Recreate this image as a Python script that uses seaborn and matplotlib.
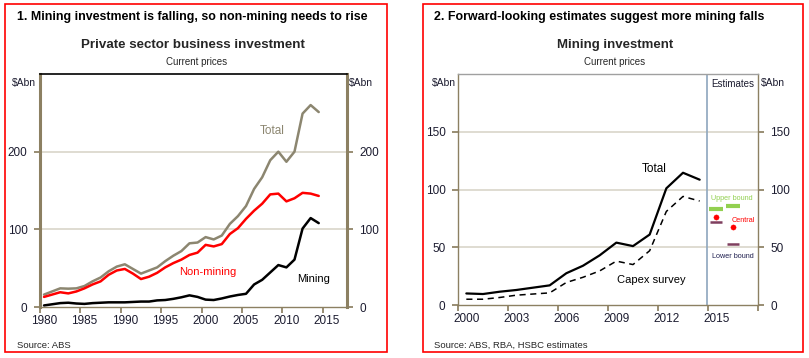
import matplotlib
matplotlib.use("Agg")
import matplotlib.pyplot as plt
import matplotlib.font_manager as fm
from matplotlib.patches import Rectangle
import pandas as pd
import seaborn as sns

# ---- data: private sector business investment ($Abn, current prices) ----
years_a = list(range(1980, 2015))
total_a = [16, 20, 24, 23.6, 24, 27, 33, 38, 46, 52, 55, 49, 43, 47, 51, 59, 66, 72,
           82, 83, 90, 87, 92, 107, 117, 130, 152, 167, 189, 200, 187, 200, 249, 260, 251]
nonmining_a = [13, 16, 19, 17.5, 20, 24, 29, 33, 41.5, 47, 49, 43, 36, 39, 44, 51, 56.5, 61,
               67, 70, 80, 78, 81, 94, 101.5, 113.5, 124, 133, 145, 146, 136, 140, 147, 146, 143]
mining_a = [2, 3.5, 5, 5.5, 4.5, 4, 5, 5.5, 6, 6, 6, 6.5, 7, 7, 8.5, 9, 10.5, 12.5,
            15, 13, 9.5, 9, 11, 13.5, 15.5, 17, 29, 35, 44.5, 54, 51, 61, 101, 114.5, 108]

# ---- data: mining investment ----
years_b = list(range(2000, 2015))
total_b = [10, 9.5, 11.5, 13, 15, 17, 27.5, 34, 43, 54, 51, 61, 101, 114.5, 108.5]
capex_b = [5, 5, 6.5, 8.5, 9.5, 10.5, 19.5, 24, 29.5, 38, 35, 47, 81, 94, 90]
est_years = [2015, 2016]
upper_b = [83, 86]
central_b = [76.5, 67.5]
lower_b = [71.5, 52.5]

sns.set_theme(style="white")
names = {f.name for f in fm.fontManager.ttflist}
base = "Liberation Sans Narrow" if "Liberation Sans Narrow" in names else "Liberation Sans"
plt.rcParams["font.family"] = [base, "DejaVu Sans"]

OLIVE = "#8c8062"
GRID = "#d9d5c9"
INK = "#1c1c30"

fig = plt.figure(figsize=(8.09, 3.58), dpi=100)


def fx(px):
    return px / 809


def fy(py):
    return 1 - py / 358


def style_axis(ax, ymax, yticks, xlo, xhi, step, label_years):
    ax.set_ylim(0, ymax)
    ax.set_xlim(xlo, xhi)
    ax.set_yticks(yticks)
    ax.set_yticklabels([str(t) for t in yticks])
    for t in yticks[1:]:
        ax.axhline(t, color=GRID, lw=1.2, zorder=0)
    # category style x axis: marks between years, labels on the years
    ax.set_xticks([xlo + i * step for i in range(int((xhi - xlo) / step) + 1)])
    ax.set_xticklabels([])
    ax.set_xticks(label_years, minor=True)
    ax.set_xticklabels([str(y) for y in label_years], minor=True)
    ax.tick_params(axis="x", which="major", direction="out", length=4, color=OLIVE, bottom=True)
    ax.tick_params(axis="x", which="minor", length=0, pad=6, labelsize=8.5, labelcolor=INK)
    ax.tick_params(axis="y", direction="out", length=4, color=OLIVE, left=True, right=True,
                   labelleft=True, labelright=True, labelsize=8.5, labelcolor=INK, pad=5)
    ax.set_xlabel("")
    ax.set_ylabel("")
    leg = ax.get_legend()
    if leg:
        leg.remove()


# ---------------- left chart ----------------
ax1 = fig.add_axes([fx(40), fy(307), fx(307), fy(74) - fy(307)])
df_a = pd.DataFrame({"year": years_a, "Total": total_a, "Non-mining": nonmining_a, "Mining": mining_a})
sns.lineplot(data=df_a, x="year", y="Total", color="#8c8670", lw=1.8, ax=ax1)
sns.lineplot(data=df_a, x="year", y="Non-mining", color="#ff0000", lw=1.8, ax=ax1)
sns.lineplot(data=df_a, x="year", y="Mining", color="black", lw=1.8, ax=ax1)
style_axis(ax1, 300, [0, 100, 200], 1979.5, 2017.5, 5, list(range(1980, 2016, 5)))
for side in ["left", "right"]:
    ax1.spines[side].set_color(OLIVE)
    ax1.spines[side].set_linewidth(2.2)
ax1.spines["top"].set_color("black")
ax1.spines["top"].set_linewidth(1.2)
ax1.spines["bottom"].set_color(OLIVE)
ax1.spines["bottom"].set_linewidth(1)
ax1.text(2008.3, 226, "Total", color="#8c8670", fontsize=8.5, ha="center", va="center")
ax1.text(2000.3, 45, "Non-mining", color="#ff0000", fontsize=8, ha="center", va="center")
ax1.text(2013.4, 36, "Mining", color="black", fontsize=8, ha="center", va="center")

# ---------------- right chart ----------------
ax2 = fig.add_axes([fx(458), fy(305), fx(300), fy(74) - fy(305)])
df_b = pd.DataFrame({"year": years_b, "Total": total_b, "Capex survey": capex_b})
sns.lineplot(data=df_b, x="year", y="Total", color="black", lw=1.6, ax=ax2)
sns.lineplot(data=df_b, x="year", y="Capex survey", color="black", lw=1.1, ax=ax2,
             linestyle=(0, (4, 3)))
df_e = pd.DataFrame({"year": est_years, "upper": upper_b, "central": central_b, "lower": lower_b})
sns.scatterplot(data=df_e, x="year", y="upper", marker="_", s=90, linewidth=3,
                color="#92d050", ax=ax2)
sns.scatterplot(data=df_e, x="year", y="central", marker="o", s=14, color="#ff0000",
                edgecolor="#ff0000", ax=ax2)
sns.scatterplot(data=df_e, x="year", y="lower", marker="_", s=80, linewidth=1.8,
                color="#7f3f5f", ax=ax2)
style_axis(ax2, 200, [0, 50, 100, 150], 1999.5, 2017.5, 3, list(range(2000, 2016, 3)))
ax2.axvline(2014.45, color="#8ea6be", lw=1.2, zorder=1)
for side in ["left", "right", "bottom"]:
    ax2.spines[side].set_color(OLIVE)
    ax2.spines[side].set_linewidth(1)
ax2.spines["top"].set_color("#a0a0a0")
ax2.spines["top"].set_linewidth(1)
ax2.text(2011.3, 117.6, "Total", color="black", fontsize=8.5, ha="center", va="center")
ax2.text(2011.1, 21.6, "Capex survey", color="black", fontsize=8, ha="center", va="center")
ax2.text(2015.9, 92, "Upper bound", color="#92d050", fontsize=5.2, ha="center", va="center")
ax2.text(2016.6, 73.5, "Central", color="#ff0000", fontsize=5.2, ha="center", va="center")
ax2.text(2016.0, 42, "Lower bound", color="#1f1f4f", fontsize=5.2, ha="center", va="center")

# ---------------- frames and headings ----------------
for x0, x1 in [(5, 387), (423, 803)]:
    fig.add_artist(Rectangle((fx(x0), fy(352)), fx(x1 - x0), fy(4) - fy(352),
                             transform=fig.transFigure, fill=False, edgecolor="#ff0000", lw=1.2))

fig.text(fx(17), fy(17), "1. Mining investment is falling, so non-mining needs to rise",
         fontsize=8.9, fontweight="bold", color="black", va="center", ha="left")
fig.text(fx(434), fy(17), "2. Forward-looking estimates suggest more mining falls",
         fontsize=8.9, fontweight="bold", color="black", va="center", ha="left")
fig.text(fx(193), fy(45), "Private sector business investment", fontsize=9.6,
         fontweight="bold", ha="center", va="center")
fig.text(fx(615), fy(45), "Mining investment", fontsize=9.5, fontweight="bold",
         ha="center", va="center")
fig.text(fx(197), fy(62), "Current prices", fontsize=7, ha="center", va="center")
fig.text(fx(615), fy(62), "Current prices", fontsize=7, ha="center", va="center")
fig.text(fx(733), fy(84), "Estimates", fontsize=7, ha="center", va="center", color=INK)
for x in [24, 361, 444, 773]:
    fig.text(fx(x), fy(83), "$Abn", fontsize=7.5, ha="center", va="center", color=INK)
fig.text(fx(17), fy(345), "Source: ABS", fontsize=6.8, ha="left", va="center")
fig.text(fx(434), fy(345), "Source: ABS, RBA, HSBC estimates", fontsize=6.8, ha="left", va="center")

fig.savefig("out.png", dpi=100)
